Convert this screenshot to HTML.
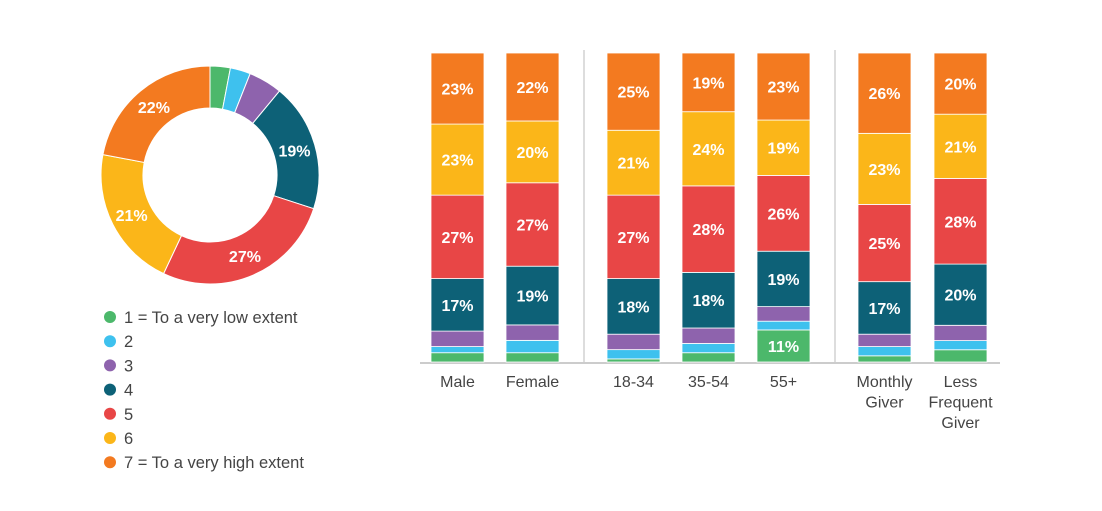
<!DOCTYPE html>
<html><head><meta charset="utf-8"><style>
body{margin:0;background:#fff;font-family:"Liberation Sans",sans-serif}
</style></head><body>
<svg id="c" width="1102" height="506" xmlns="http://www.w3.org/2000/svg"></svg>
<script>
const colors=["#4cb86b","#3ec1ee","#8e63ad","#0d6177","#e84646","#fbb619","#f37a20"];
const legendLabels=["1 = To a very low extent","2","3","4","5","6","7 = To a very high extent"];
const donutValues=[3,3,5,19,27,21,22];
const categories=["Male","Female","18-34","35-54","55+","Monthly Giver","Less Frequent Giver"];
const s1=[3,3,1,3,11,2,4];
const s2=[2,4,3,3,3,3,3];
const s3=[5,5,5,5,5,4,5];
const s4=[17,19,18,18,19,17,20];
const s5=[27,27,27,28,26,25,28];
const s6=[23,20,21,24,19,23,21];
const s7=[23,22,25,19,23,26,20];
const series=[s1,s2,s3,s4,s5,s6,s7];
const svg=document.getElementById('c');
const NS="http://www.w3.org/2000/svg";
function mk(t,a,p){const e=document.createElementNS(NS,t);for(const k in a)e.setAttribute(k,a[k]);(p||svg).appendChild(e);return e;}
// donut
const cx=210,cy=175,R=109,r=67;
let tot=donutValues.reduce((a,b)=>a+b,0),ang=0;
donutValues.forEach((v,i)=>{
  const a0=ang,a1=ang+v/tot*2*Math.PI;ang=a1;
  const p=(a,rad)=>[cx+rad*Math.sin(a),cy-rad*Math.cos(a)];
  const [x0,y0]=p(a0,R),[x1,y1]=p(a1,R),[x2,y2]=p(a1,r),[x3,y3]=p(a0,r);
  const lg=(a1-a0)>Math.PI?1:0;
  const e=mk('path',{d:`M${x0},${y0}A${R},${R} 0 ${lg} 1 ${x1},${y1}L${x2},${y2}A${r},${r} 0 ${lg} 0 ${x3},${y3}Z`,fill:colors[i],stroke:'#fff','stroke-width':1});
  
  
  if(v>=10){const [tx,ty]=p((a0+a1)/2,(R+r)/2);
    const t=mk('text',{x:tx,y:ty+6,'text-anchor':'middle',fill:'#fff','font-size':16,'font-weight':'bold'});t.textContent=v+'%';
    
    }
});
// legend
legendLabels.forEach((l,i)=>{
  const y=317+i*24.2;
  const c=mk('circle',{cx:110,cy:y,r:6,fill:colors[i]});
  
  
  const t=mk('text',{x:124,y:y+6,'font-size':16.5,fill:'#444'});t.textContent=l;
  
  
});
// bars
const xs=[431,506,607,682,757,858,934],bw=53,base=362,H=309;
const bl=mk('line',{x1:420,x2:1000,y1:363,y2:363,stroke:'#ccc','stroke-width':2});


[584,835].forEach(x=>{const l=mk('line',{x1:x,x2:x,y1:50,y2:362,stroke:'#ddd','stroke-width':2});
  
  });
categories.forEach((c,j)=>{
  const sum=series.reduce((a,s)=>a+s[j],0);let y=base;
  series.forEach((s,i)=>{
    const h=s[j]/sum*H;y-=h;
    const rc=mk('rect',{x:xs[j],y:y,width:bw,height:h,fill:colors[i],stroke:'#fff','stroke-width':0.8});
    
    
    if(s[j]>=10){const t=mk('text',{x:xs[j]+bw/2,y:y+h/2+6,'text-anchor':'middle',fill:'#fff','font-size':16,'font-weight':'bold'});t.textContent=s[j]+'%';
      
      }
  });
  const words=c==="Monthly Giver"?["Monthly","Giver"]:c==="Less Frequent Giver"?["Less","Frequent","Giver"]:[c];
  words.forEach((w,k)=>{const t=mk('text',{x:xs[j]+bw/2,y:387+k*20.5,'text-anchor':'middle','font-size':16,fill:'#444'});t.textContent=w;
    
    });
});
</script>
</body></html>
